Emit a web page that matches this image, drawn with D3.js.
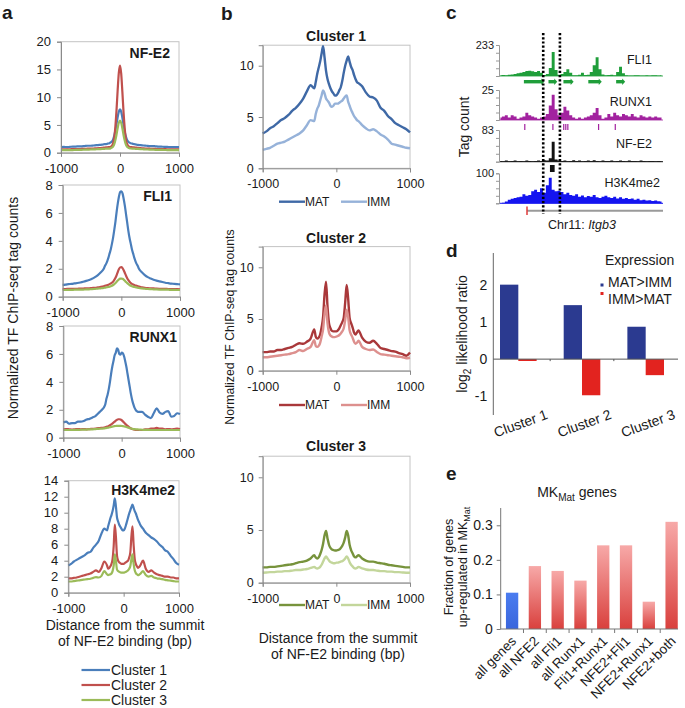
<!DOCTYPE html>
<html><head><meta charset="utf-8">
<script src="https://cdn.jsdelivr.net/npm/d3@7"></script>
<style>
body{margin:0;background:#fff}
text{font-family:"Liberation Sans",Arial,Helvetica,sans-serif;fill:#1a1a1a}
</style></head>
<body><svg id="c" width="685" height="708"></svg>
<script>
// ---------- shared x positions (bp from NF-E2 summit) ----------
const positions = [-1000,-950,-900,-850,-800,-750,-700,-650,-600,-550,-500,-450,-400,-350,-300,
 -280,-260,-240,-220,-200,-180,-160,-140,-120,-100,-80,-60,-40,-20,0,20,40,60,80,100,120,140,160,180,200,220,240,260,280,
 300,350,400,450,500,550,600,650,700,750,800,850,900,950,1000];
const xTickValues = [-1000, 0, 1000];

// ---------- panel a ----------
const clusterNames = ["Cluster 1","Cluster 2","Cluster 3"];
const nfe2C1 = [1.0,1.05,1.0,1.05,1.1,1.1,1.15,1.15,1.2,1.25,1.25,1.3,1.35,1.4,1.45,
 1.5,1.55,1.55,1.6,1.65,1.7,1.85,2.0,2.3,2.95,3.9,5.1,6.4,7.4,7.8,7.4,6.3,5.0,3.8,2.9,2.3,2.0,1.8,1.7,1.65,1.6,1.55,1.5,1.45,
 1.4,1.35,1.3,1.25,1.2,1.2,1.15,1.1,1.1,1.05,1.05,1.0,1.0,1.0,1.0];
const nfe2C2 = [0.6,0.6,0.62,0.62,0.64,0.65,0.66,0.68,0.7,0.72,0.74,0.76,0.8,0.83,0.86,
 0.9,0.9,0.95,0.95,1.0,1.0,1.05,1.2,1.6,2.5,4.5,7.5,11.2,14.4,15.7,14.3,11.0,7.3,4.4,2.4,1.6,1.2,1.05,1.0,1.0,0.95,0.95,0.9,0.9,
 0.86,0.82,0.78,0.75,0.72,0.7,0.68,0.66,0.65,0.64,0.62,0.62,0.6,0.6,0.6];
const nfe2C3 = [0.45,0.45,0.46,0.47,0.48,0.5,0.5,0.52,0.54,0.56,0.58,0.6,0.62,0.65,0.68,
 0.7,0.7,0.72,0.72,0.75,0.75,0.78,0.9,1.08,1.45,2.2,3.2,4.4,5.4,5.8,5.4,4.4,3.2,2.2,1.45,1.08,0.9,0.8,0.76,0.75,0.72,0.72,0.7,0.7,
 0.68,0.64,0.61,0.58,0.56,0.54,0.52,0.5,0.5,0.49,0.48,0.47,0.46,0.45,0.45];
const fli1C1 = [0.85,0.87,0.9,0.92,0.95,0.98,1.02,1.07,1.13,1.2,1.28,1.4,1.55,1.75,2.0,
 2.2,2.35,2.55,2.8,3.1,3.4,3.8,4.25,4.8,5.4,6.1,6.7,7.2,7.5,7.55,7.4,7.0,6.5,5.9,5.3,4.7,4.2,3.8,3.4,3.1,2.8,2.55,2.35,2.2,
 2.0,1.75,1.55,1.4,1.3,1.22,1.15,1.1,1.05,1.0,0.97,0.94,0.92,0.9,0.88];
const fli1C2 = [0.55,0.55,0.56,0.56,0.57,0.57,0.58,0.58,0.6,0.6,0.62,0.64,0.67,0.7,0.75,
 0.78,0.8,0.83,0.86,0.9,0.95,1.0,1.08,1.2,1.35,1.55,1.78,1.98,2.1,2.12,2.05,1.9,1.7,1.5,1.32,1.18,1.07,0.98,0.92,0.88,0.84,0.8,0.78,0.75,
 0.72,0.67,0.63,0.61,0.6,0.59,0.58,0.57,0.56,0.56,0.55,0.55,0.54,0.54,0.53];
const fli1C3 = [0.48,0.48,0.49,0.49,0.5,0.5,0.5,0.51,0.52,0.53,0.54,0.56,0.58,0.6,0.63,
 0.65,0.66,0.68,0.7,0.72,0.75,0.79,0.84,0.9,0.98,1.07,1.16,1.24,1.29,1.3,1.28,1.22,1.14,1.05,0.97,0.9,0.84,0.79,0.75,0.72,0.7,0.68,0.66,0.64,
 0.62,0.59,0.57,0.55,0.54,0.53,0.52,0.51,0.5,0.5,0.5,0.49,0.49,0.48,0.48];
const runx1C1 = [1.1,1.15,1.0,1.05,1.05,1.15,1.15,1.2,1.3,1.35,1.45,1.55,1.75,1.95,2.2,
 2.4,2.8,3.1,3.5,4.0,4.6,5.1,5.5,5.9,6.1,6.4,6.3,6.0,5.95,6.1,6.05,5.85,5.5,5.1,4.6,4.1,3.6,3.1,2.7,2.4,2.15,2.0,1.9,1.85,
 1.85,1.85,1.65,1.5,1.4,1.75,2.1,1.8,1.7,1.85,1.9,1.5,1.55,1.75,1.7];
const runx1C2 = [0.6,0.62,0.6,0.58,0.6,0.62,0.6,0.62,0.6,0.62,0.63,0.65,0.68,0.7,0.73,
 0.75,0.78,0.8,0.85,0.9,0.95,1.0,1.08,1.15,1.22,1.28,1.32,1.32,1.3,1.25,1.18,1.08,1.0,0.92,0.85,0.78,0.72,0.66,0.62,0.6,0.58,0.56,0.55,0.55,
 0.55,0.55,0.6,0.6,0.65,0.65,0.7,0.65,0.65,0.6,0.62,0.6,0.62,0.65,0.62];
const runx1C3 = [0.55,0.55,0.55,0.55,0.56,0.56,0.57,0.58,0.58,0.6,0.6,0.62,0.63,0.65,0.67,
 0.68,0.7,0.71,0.73,0.75,0.77,0.79,0.81,0.83,0.84,0.85,0.85,0.85,0.85,0.84,0.83,0.81,0.79,0.77,0.74,0.71,0.68,0.66,0.64,0.62,0.61,0.6,0.59,0.59,
 0.58,0.57,0.56,0.56,0.55,0.55,0.55,0.55,0.55,0.55,0.55,0.55,0.55,0.55,0.55];
const h3k4C1 = [3.4,3.6,3.9,4.1,4.3,4.5,4.7,5.0,5.1,5.6,6.0,6.5,7.4,8.0,7.8,
 8.3,8.8,9.3,9.7,10.2,10.9,11.8,10.8,9.4,8.9,8.5,8.25,8.0,7.8,7.8,8.0,8.4,8.9,9.4,9.9,10.3,10.7,11.0,10.6,10.2,9.9,9.5,9.1,8.8,
 8.5,8.0,7.5,7.2,6.9,6.7,6.4,6.0,5.7,5.3,5.1,4.6,4.2,3.7,3.5];
const h3k4C2 = [1.8,1.8,1.85,1.9,2.0,2.1,2.2,2.3,2.4,2.6,2.8,2.6,3.1,3.9,3.4,
 3.0,3.1,3.3,3.6,4.2,5.8,8.5,7.0,4.6,4.0,3.8,3.7,3.6,3.6,3.6,3.7,3.8,3.9,4.0,4.4,5.0,7.0,8.3,6.0,4.2,3.6,3.3,3.1,3.2,
 3.4,4.0,3.0,2.6,2.8,2.5,2.3,2.2,2.1,2.0,2.0,1.9,1.9,1.8,1.8];
const h3k4C3 = [1.4,1.4,1.45,1.5,1.55,1.6,1.65,1.7,1.75,1.85,1.95,1.9,2.1,2.7,2.3,
 2.2,2.25,2.3,2.4,2.7,3.4,4.8,4.0,2.9,2.7,2.6,2.55,2.5,2.5,2.5,2.55,2.6,2.7,2.8,3.0,3.3,4.2,4.8,3.6,2.8,2.45,2.3,2.2,2.25,
 2.35,2.7,2.2,2.0,2.1,1.9,1.8,1.75,1.7,1.6,1.55,1.5,1.45,1.4,1.4];

// ---------- panel b ----------
const stageNames = ["MAT","IMM"];
const c1Mat = [3.4,3.6,3.9,4.1,4.4,4.7,4.9,5.2,5.6,5.9,6.3,6.8,7.5,8.1,7.8,
 8.4,9.2,9.8,10.4,11.2,11.9,10.8,9.5,8.7,8.2,7.8,7.5,7.3,7.1,7.1,7.3,7.6,7.9,8.5,9.3,10.0,10.5,10.9,10.4,9.9,9.6,9.1,8.7,8.4,
 8.3,8.0,7.4,7.0,6.9,6.6,5.9,5.6,5.1,4.8,4.4,4.2,4.0,3.8,3.5];
const c1Imm = [1.8,1.9,2.0,2.2,2.4,2.5,2.6,2.8,3.0,3.2,3.4,3.7,4.2,4.7,4.6,
 5.3,5.8,6.1,6.6,7.1,7.6,7.3,6.8,6.6,6.4,6.1,6.0,6.1,6.3,6.3,6.3,6.4,6.5,6.6,6.8,7.0,7.1,6.5,6.1,5.7,5.4,5.1,4.9,4.7,
 4.6,4.2,3.9,3.7,3.8,3.6,3.3,3.1,2.8,2.4,2.3,2.2,2.1,2.0,1.95];
const c2Mat = [1.8,1.8,1.85,1.85,2.0,2.0,2.1,2.2,2.3,2.5,2.65,2.6,2.8,3.1,4.0,
 3.3,3.1,3.2,3.5,4.2,5.2,7.4,8.6,6.2,4.6,4.1,3.85,3.8,3.8,3.8,3.9,4.1,4.4,4.7,5.1,6.6,8.3,7.0,5.1,4.6,4.2,3.7,3.5,3.7,
 3.9,3.2,2.8,2.7,2.9,2.6,2.2,2.1,2.0,1.9,1.85,1.7,1.6,1.45,1.75];
const c2Imm = [1.3,1.3,1.35,1.4,1.45,1.5,1.55,1.6,1.7,1.8,2.0,1.9,2.1,2.3,2.95,
 2.4,2.3,2.4,2.7,3.3,4.0,5.5,6.3,4.6,3.7,3.4,3.3,3.25,3.25,3.3,3.35,3.45,3.6,3.8,4.1,4.9,5.9,5.2,3.9,3.5,3.2,2.8,2.6,2.7,
 2.9,2.3,2.1,2.0,2.05,1.8,1.6,1.55,1.5,1.45,1.4,1.35,1.3,1.2,1.25];
const c3Mat = [1.45,1.45,1.5,1.5,1.55,1.6,1.65,1.7,1.75,1.85,1.95,2.0,2.1,2.3,2.6,
 2.4,2.3,2.4,2.7,3.1,3.7,4.5,4.9,4.2,3.6,3.3,3.15,3.1,3.05,3.05,3.1,3.15,3.3,3.5,3.8,4.3,4.9,4.5,3.6,3.1,2.8,2.5,2.4,2.5,
 2.6,2.3,2.1,2.0,2.0,1.9,1.85,1.8,1.7,1.65,1.6,1.55,1.5,1.45,1.45];
const c3Imm = [0.95,0.97,1.0,1.0,1.05,1.05,1.1,1.1,1.15,1.2,1.2,1.25,1.3,1.4,1.5,
 1.4,1.35,1.4,1.5,1.7,2.0,2.3,2.5,2.3,2.1,1.95,1.9,1.85,1.85,1.9,1.9,1.95,2.0,2.05,2.15,2.3,2.5,2.3,1.95,1.7,1.55,1.4,1.35,1.4,
 1.5,1.35,1.25,1.2,1.2,1.15,1.1,1.1,1.05,1.05,1.0,1.0,0.97,0.95,0.95];

// ---------- panel c (genome browser tracks, 56 bins) ----------
const trackNames = ["FLI1","RUNX1","NF-E2","H3K4me2"];
const trackMax = [233, 25, 83, 100];
const fli1Track = [5,8,6,10,12,15,20,25,30,38,40,35,30,38,25,8,15,60,180,45,10,15,30,50,25,6,5,10,25,8,10,30,80,140,50,12,5,8,10,6,30,70,20,5,4,3,6,5,4,3,5,4,6,5,4,5];
const runx1Track = [2,3,4,2,4,3,1,2,3,6,4,3,2,1,2,3,5,12,21,9,4,6,11,8,4,2,1,2,1,2,3,4,6,10,4,1,2,5,3,6,4,3,5,4,3,5,3,2,4,3,2,3,2,3,2,2];
const nfe2Track = [2,1,3,1,2,3,1,2,1,3,2,1,2,3,2,4,3,9,52,6,3,2,3,1,2,4,2,3,1,2,3,2,4,2,1,3,2,2,3,1,2,3,2,1,3,2,2,1,3,2,1,2,2,1,2,1];
const h3k4Track = [0,2,6,12,15,18,20,22,30,25,28,40,45,38,50,35,60,85,45,40,42,38,30,35,28,25,30,22,26,20,24,22,28,20,18,22,25,20,18,22,16,20,15,18,14,16,12,15,10,12,9,10,8,9,7,6];
const fli1Features = [[8.5,14.8],[16.9,19.2],[22.0,24.8],[30.5,34.4],[40.0,42.4]];
const runx1Features = [[8.6,9.0],[18.2,18.6],[21.9,22.2],[22.6,22.9],[23.3,23.6],[33.8,34.2],[39.5,39.8]];
const nfe2Features = [[17.4,19.0]];
const dottedBins = [15.1, 20.8];

// ---------- panel d ----------
const dCategories = ["Cluster 1","Cluster 2","Cluster 3"];
const dGroups = ["MAT>IMM","IMM>MAT"];
const dMatGtImm = [2.0, 1.45, 0.87];
const dImmGtMat = [-0.05, -0.97, -0.43];
const dTicks = [-1, 0, 1, 2];

// ---------- panel e ----------
const eCategories = ["all genes","all NFE2","all Fli1","all Runx1","Fli1+Runx1","NFE2+Fli1","NFE2+Runx1","NFE2+both"];
const eValues = [0.105, 0.182, 0.168, 0.140, 0.242, 0.242, 0.079, 0.310];
const eTicks = [0, 0.1, 0.2, 0.3];

// ================= drawing =================
const svg = d3.select("#c");
const AXC = "#8a8a8a";

function txt(x, y, s, o = {}) {
  const t = svg.append("text").attr("x", x).attr("y", y).text(s)
    .attr("font-size", o.size || 14).attr("text-anchor", o.anchor || "start");
  if (o.bold) t.attr("font-weight", "bold");
  if (o.rotate !== undefined) t.attr("transform", `rotate(${o.rotate},${x},${y})`);
  return t;
}
function styleAxis(g, size) {
  g.selectAll("path.domain").attr("stroke", AXC);
  g.selectAll(".tick line").attr("stroke", AXC);
  g.selectAll(".tick text").attr("font-size", size).attr("fill", "#1a1a1a")
    .attr("font-family", '"Liberation Sans",Arial,sans-serif');
}

function profilePanel(cfg) {
  const g = svg.append("g");
  const x = d3.scaleLinear().domain([-1000, 1000]).range([cfg.x0, cfg.x1]);
  const y = d3.scaleLinear().domain([0, cfg.yMax]).range([cfg.yBottom, cfg.yTop]);
  g.append("rect").attr("x", cfg.x0).attr("y", cfg.yTop).attr("width", cfg.x1 - cfg.x0)
    .attr("height", cfg.yBottom - cfg.yTop).attr("fill", "none").attr("stroke", "#c4c4c4").attr("stroke-width", 1);
  const line = d3.line().x((d, i) => x(positions[i])).y(d => y(d)).curve(d3.curveMonotoneX);
  cfg.series.forEach(s => g.append("path").attr("d", line(s.values)).attr("fill", "none")
    .attr("stroke", s.color).attr("stroke-width", cfg.lw).attr("stroke-linejoin", "round"));
  const ax = g.append("g").attr("transform", `translate(0,${cfg.yBottom})`)
    .call(d3.axisBottom(x).tickValues(xTickValues).tickSize(4).tickPadding(cfg.xPad).tickFormat(d => String(d)));
  styleAxis(ax, cfg.tickSize);
  const ay = g.append("g").attr("transform", `translate(${cfg.x0},0)`)
    .call(d3.axisLeft(y).tickValues(cfg.yTicks).tickSize(4).tickPadding(cfg.yPad).tickFormat(d => String(d)));
  styleAxis(ay, cfg.tickSize);
  if (cfg.title) txt(cfg.titleX, cfg.titleY, cfg.title, { bold: true, size: cfg.titleSize || 14, anchor: cfg.titleAnchor || "end" });
}

const aColors = ["#4a7ebb", "#c0504d", "#9bbb59"];
const aPanels = [
  { data: [nfe2C1, nfe2C2, nfe2C3], title: "NF-E2", x0: 61, x1: 179, yBottom: 152.7, yTop: 41.7, yMax: 20, yTicks: [0,5,10,15,20], titleX: 170, titleY: 58 },
  { data: [fli1C1, fli1C2, fli1C3], title: "FLI1", x0: 62.7, x1: 180, yBottom: 296.7, yTop: 185, yMax: 8, yTicks: [0,2,4,6,8], titleX: 172, titleY: 201 },
  { data: [runx1C1, runx1C2, runx1C3], title: "RUNX1", x0: 63.3, x1: 180, yBottom: 437.7, yTop: 326, yMax: 8, yTicks: [0,2,4,6,8], titleX: 177, titleY: 342 },
  { data: [h3k4C1, h3k4C2, h3k4C3], title: "H3K4me2", x0: 68.3, x1: 179, yBottom: 592.7, yTop: 480.7, yMax: 14, yTicks: [0,2,4,6,8,10,12,14], titleX: 175, titleY: 495 }
];
aPanels.forEach(p => profilePanel({
  ...p, lw: 2.2, xPad: 7, yPad: 6, tickSize: 13,
  series: p.data.map((v, i) => ({ values: v, color: aColors[i] }))
}));

const bColors = [["#3f69a6", "#96b2d9"], ["#a9383a", "#dd908e"], ["#77933c", "#c3d69b"]];
const bData = [[c1Mat, c1Imm], [c2Mat, c2Imm], [c3Mat, c3Imm]];
const bLayout = [
  { yBottom: 168.3, yTop: 45.2, titleY: 41, legY: 201.7 },
  { yBottom: 370.7, yTop: 246.6, titleY: 243, legY: 405 },
  { yBottom: 582.7, yTop: 456.2, titleY: 451, legY: 605 }
];
bLayout.forEach((L, k) => {
  profilePanel({
    x0: 262.7, x1: 410, yBottom: L.yBottom, yTop: L.yTop, yMax: 12, yTicks: [0, 5, 10],
    lw: 2.4, xPad: 7, yPad: 5, tickSize: 12.5,
    series: bData[k].map((v, i) => ({ values: v, color: bColors[k][i] })),
    title: clusterNames[k], titleX: 336, titleY: L.titleY, titleAnchor: "middle"
  });
  // legend
  const lx = [279, 341];
  stageNames.forEach((n, i) => {
    svg.append("line").attr("x1", lx[i]).attr("x2", lx[i] + 26).attr("y1", L.legY).attr("y2", L.legY)
      .attr("stroke", bColors[k][i]).attr("stroke-width", 2.4);
    txt(lx[i] + 26, L.legY + 4.3, n, { size: 12 });
  });
});

// a: legend + axis titles
clusterNames.forEach((n, i) => {
  const yy = 670 + i * 15;
  svg.append("line").attr("x1", 81.5).attr("x2", 110).attr("y1", yy).attr("y2", yy).attr("stroke", aColors[i]).attr("stroke-width", 2.2);
  txt(111, yy + 5, n, { size: 14 });
});
txt(125, 630, "Distance from the summit", { anchor: "middle" });
txt(125, 646, "of NF-E2 binding (bp)", { anchor: "middle" });
txt(18, 308, "Normalized TF ChIP-seq tag counts", { anchor: "middle", rotate: -90 });
txt(338, 643, "Distance from the summit", { anchor: "middle" });
txt(338, 659, "of NF-E2 binding (bp)", { anchor: "middle" });
txt(234, 327, "Normalized TF ChIP-seq tag counts", { anchor: "middle", rotate: -90, size: 12.3 });

// panel letters
[["a", 2, 19], ["b", 221, 20], ["c", 446, 19], ["d", 446, 257], ["e", 446, 480]].forEach(([l, x, y]) =>
  txt(x, y, l, { bold: true, size: 19 }));

// ---------- panel c ----------
const cx = d3.scaleLinear().domain([0, 56]).range([499, 663]);
const trackLayout = [
  { data: fli1Track, color: "#1f9e3a", top: 45, base: 76, labelY: 64, labelX: 652 },
  { data: runx1Track, color: "#a2229f", top: 90, base: 120, labelY: 106, labelX: 652 },
  { data: nfe2Track, color: "#111111", top: 130, base: 161.7, labelY: 148, labelX: 652 },
  { data: h3k4Track, color: "#1414f0", top: 173.3, base: 203.3, labelY: 187, labelX: 660 }
];
trackLayout.forEach((T, k) => {
  const y = d3.scaleLinear().domain([0, trackMax[k]]).range([T.base, T.top]);
  const area = d3.area().x((d, i) => cx(i + 0.5)).y0(T.base).y1(d => y(d)).curve(d3.curveStep);
  svg.append("line").attr("x1", cx(0)).attr("x2", cx(56)).attr("y1", T.base).attr("y2", T.base)
    .attr("stroke", T.color).attr("stroke-width", 1.2).attr("opacity", 0.8);
  svg.append("path").attr("d", area(T.data)).attr("fill", T.color);
  const ay = svg.append("g").attr("transform", `translate(${cx(0)},0)`)
    .call(d3.axisLeft(y).tickValues(d3.range(5).map(i => trackMax[k] * i / 4)).tickSize(3).tickPadding(2)
      .tickFormat(d => d === trackMax[k] ? String(d) : ""));
  ay.selectAll("path.domain").attr("stroke", "#999");
  ay.selectAll(".tick line").attr("stroke", "#999");
  ay.selectAll(".tick text").attr("font-size", 11).attr("fill", "#1a1a1a");
  txt(T.labelX, T.labelY, trackNames[k], { size: 12.5, anchor: "end" });
});
fli1Features.forEach(([a, b]) => {
  svg.append("rect").attr("x", cx(a)).attr("y", 80).attr("width", cx(b) - cx(a)).attr("height", 3.4).attr("fill", "#1f9e3a");
  svg.append("path").attr("d", `M${cx(b) - 1},78.5 L${cx(b) + 2},81.7 L${cx(b) - 1},84.9 Z`).attr("fill", "#1f9e3a");
});
runx1Features.forEach(([a, b]) => svg.append("rect").attr("x", cx(a)).attr("y", 124)
  .attr("width", Math.max(1.2, cx(b) - cx(a))).attr("height", 6).attr("fill", "#a2229f"));
nfe2Features.forEach(([a, b]) => svg.append("rect").attr("x", cx(a)).attr("y", 165)
  .attr("width", cx(b) - cx(a)).attr("height", 7).attr("fill", "#111"));
svg.append("line").attr("x1", 527).attr("x2", 663).attr("y1", 210.7).attr("y2", 210.7).attr("stroke", "#9a9a9a").attr("stroke-width", 2);
svg.append("line").attr("x1", 527).attr("x2", 527).attr("y1", 206.5).attr("y2", 215).attr("stroke", "#e03a3a").attr("stroke-width", 1.5);
dottedBins.forEach(b => svg.append("line").attr("x1", cx(b)).attr("x2", cx(b)).attr("y1", 33).attr("y2", 214)
  .attr("stroke", "#000").attr("stroke-width", 2.6).attr("stroke-dasharray", "2.2,2"));
txt(469, 127, "Tag count", { anchor: "middle", rotate: -90, size: 14 });
const chr = txt(582, 229, "Chr11: ", { anchor: "middle", size: 12.5 });
chr.append("tspan").attr("font-style", "italic").text("Itgb3");

// ---------- panel d ----------
const dy = d3.scaleLinear().domain([-1.5, 2.85]).range([415, 253]);
const dx = d3.scaleBand().domain(dCategories).range([493, 671]).paddingInner(0.425).paddingOuter(0.11);
const dsub = d3.scaleBand().domain(dGroups).range([0, dx.bandwidth()]);
const dColors = { "MAT>IMM": "#2b3a90", "IMM>MAT": "#e2231f" };
dCategories.forEach((c, i) => {
  [dMatGtImm[i], dImmGtMat[i]].forEach((v, j) => {
    const grp = dGroups[j];
    svg.append("rect").attr("x", dx(c) + dsub(grp)).attr("width", dsub.bandwidth())
      .attr("y", dy(Math.max(0, v))).attr("height", Math.max(1.5, Math.abs(dy(v) - dy(0))))
      .attr("fill", dColors[grp]);
  });
});
const dAxisY = svg.append("g").attr("transform", "translate(493.3,0)")
  .call(d3.axisLeft(dy).tickValues(dTicks).tickSize(0).tickPadding(6).tickFormat(d => String(d)));
dAxisY.select("path.domain").attr("stroke", "#666").attr("d", `M0,${dy(2.85)}V${dy(-1.5)}`);
dAxisY.selectAll(".tick text").attr("font-size", 14).attr("fill", "#1a1a1a");
svg.append("line").attr("x1", 493.3).attr("x2", 678).attr("y1", dy(0)).attr("y2", dy(0)).attr("stroke", "#555").attr("stroke-width", 1);
[0, 1].forEach(i => {
  const bx = dx(dCategories[i]) + dx.bandwidth() + dx.step() * dx.paddingInner() / 2;
  svg.append("line").attr("x1", bx).attr("x2", bx).attr("y1", dy(0)).attr("y2", dy(0) + 2).attr("stroke", "#555");
});
dCategories.forEach(c => {
  const cxp = dx(c) + dx.bandwidth() / 2 + 4;
  txt(cxp, 428, c, { anchor: "middle", rotate: -20, size: 14 });
});
const dl = txt(467, 334, "log", { anchor: "middle", rotate: -90, size: 14 });
dl.append("tspan").attr("font-size", 10).attr("dy", 4).text("2");
dl.append("tspan").attr("dy", -4).text(" likelihood ratio");
txt(605, 265, "Expression", { size: 14 });
dGroups.forEach((gname, i) => {
  svg.append("rect").attr("x", 600.5).attr("y", i ? 292 : 283.5).attr("width", 3).attr("height", 3).attr("fill", dColors[gname]);
  txt(608, 287 + i * 16.5, gname, { size: 14 });
});

// ---------- panel e ----------
const defs = svg.append("defs");
const grad = defs.append("linearGradient").attr("id", "eg").attr("x1", 0).attr("x2", 0).attr("y1", 0).attr("y2", 1);
grad.append("stop").attr("offset", "0%").attr("stop-color", "#f7a9a8");
grad.append("stop").attr("offset", "100%").attr("stop-color", "#d9403d");
const gradB = defs.append("linearGradient").attr("id", "egb").attr("x1", 0).attr("x2", 0).attr("y1", 0).attr("y2", 1);
gradB.append("stop").attr("offset", "0%").attr("stop-color", "#4a7cf0");
gradB.append("stop").attr("offset", "100%").attr("stop-color", "#3a66dc");
const ey = d3.scaleLinear().domain([0, 0.35]).range([629, 508]);
const ex = d3.scaleBand().domain(eCategories).range([500.7, 683]).paddingInner(0.46).paddingOuter(0.23);
svg.selectAll("rect.ebar").data(eValues).enter().append("rect").attr("class", "ebar")
  .attr("x", (d, i) => ex(eCategories[i])).attr("width", ex.bandwidth())
  .attr("y", d => ey(d)).attr("height", d => ey(0) - ey(d))
  .attr("fill", (d, i) => i === 0 ? "url(#egb)" : "url(#eg)");
const eAxisY = svg.append("g").attr("transform", "translate(500.7,0)")
  .call(d3.axisLeft(ey).tickValues(eTicks).tickSize(4).tickPadding(4).tickFormat(d => d === 0 ? "0" : d3.format(".1f")(d)));
eAxisY.select("path.domain").attr("stroke", "#777").attr("d", `M0,${ey(0.35)}V${ey(0)}`);
eAxisY.selectAll(".tick line").attr("stroke", "#777");
eAxisY.selectAll(".tick text").attr("font-size", 14).attr("fill", "#1a1a1a");
svg.append("line").attr("x1", 500.7).attr("x2", 678).attr("y1", ey(0)).attr("y2", ey(0)).attr("stroke", "#777");
eCategories.forEach((c, i) => {
  if (i > 0) {
    const tx = ex(c) - ex.step() * ex.paddingInner() / 2;
    svg.append("line").attr("x1", tx).attr("x2", tx).attr("y1", ey(0)).attr("y2", ey(0) + 4).attr("stroke", "#777");
  }
  txt(ex(c) + ex.bandwidth() / 2 + 5, 642, c, { anchor: "end", rotate: -45, size: 13.5 });
});
const et = txt(577, 497, "MK", { anchor: "middle", size: 14 });
et.append("tspan").attr("font-size", 10).attr("dy", 4).text("Mat");
et.append("tspan").attr("dy", -4).text(" genes");
txt(453, 567, "Fraction of genes", { anchor: "middle", rotate: -90, size: 12.5 });
const el2 = txt(467, 567, "up-regulated in MK", { anchor: "middle", rotate: -90, size: 12.5 });
el2.append("tspan").attr("font-size", 9).attr("dy", 3).text("Mat");
</script></body></html>
